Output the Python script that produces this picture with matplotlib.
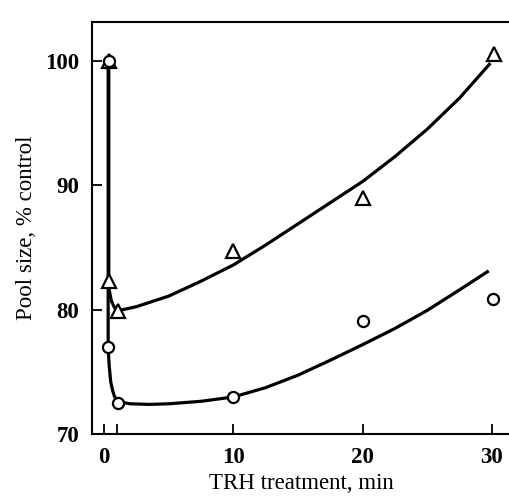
import matplotlib
matplotlib.use('Agg')
import matplotlib.pyplot as plt

# measured points
tri_x = [0.35, 0.35, 1.1, 10, 20, 30.2]
tri_y = [100, 82.3, 79.9, 84.7, 89.0, 100.5]
circ_x = [0.35, 0.3, 1.05, 10, 20, 30.1]
circ_y = [100, 77.0, 72.5, 73.0, 79.1, 80.9]

# fitted curves
tri_fit_x = [0.35, 0.35, 0.4, 0.55, 0.8, 1.2, 2.5, 5, 7.5, 10, 12.5, 15, 17.5, 20, 22.5, 25, 27.5, 29.8]
tri_fit_y = [100, 82.3, 81.5, 80.7, 80.15, 79.95, 80.25, 81.1, 82.3, 83.6, 85.2, 86.9, 88.6, 90.3, 92.3, 94.5, 97.0, 99.7]
circ_fit_x = [0.3, 0.3, 0.38, 0.5, 0.65, 0.8, 1.2, 2, 3.5, 5, 7.5, 10, 12.5, 15, 17.5, 20, 22.5, 25, 27.5, 29.65]
circ_fit_y = [100, 77.0, 75.5, 74.2, 73.5, 73.0, 72.6, 72.45, 72.4, 72.45, 72.65, 73.0, 73.75, 74.75, 75.95, 77.2, 78.5, 79.95, 81.6, 83.05]

xticks = [0, 1, 10, 20, 30]
xticklabels = ['0', '', '10', '20', '30']
yticks = [70, 80, 90, 100]

plt.rcParams['font.family'] = 'Liberation Serif'

fig = plt.figure(figsize=(5.1, 5.03), dpi=100)
ax = fig.add_axes([92/510, (503-434.3)/503, 1-92/510, (434.3-22)/503])

ax.plot(tri_fit_x, tri_fit_y, color='black', lw=2.3, solid_joinstyle='round', zorder=2)
ax.plot(circ_fit_x, circ_fit_y, color='black', lw=2.3, solid_joinstyle='round', zorder=2)
ax.plot(tri_x, tri_y, '^', ms=9.5, mfc='white', mec='black', mew=1.6, ls='none', zorder=3)
ax.plot(circ_x, circ_y, 'o', ms=8, mfc='white', mec='black', mew=1.6, ls='none', zorder=4)

ax.set_xlim(-0.95, 31.4)
ax.set_ylim(70, 103.1)
ax.spines['right'].set_visible(False)
for s in ['left', 'bottom', 'top']:
    ax.spines[s].set_linewidth(1.5)

ax.set_xticks(xticks)
ax.set_xticklabels(xticklabels)
ax.set_yticks(yticks)
ax.tick_params(direction='in', length=7, width=1.3, labelsize=16.5, pad=9)
for lab in ax.get_xticklabels() + ax.get_yticklabels():
    lab.set_fontweight('bold')

ax.set_xlabel('TRH treatment, min', fontsize=16.5, labelpad=4)
ax.set_ylabel('Pool size, % control', fontsize=16.5, labelpad=6)

fig.savefig('out.png', dpi=100)
